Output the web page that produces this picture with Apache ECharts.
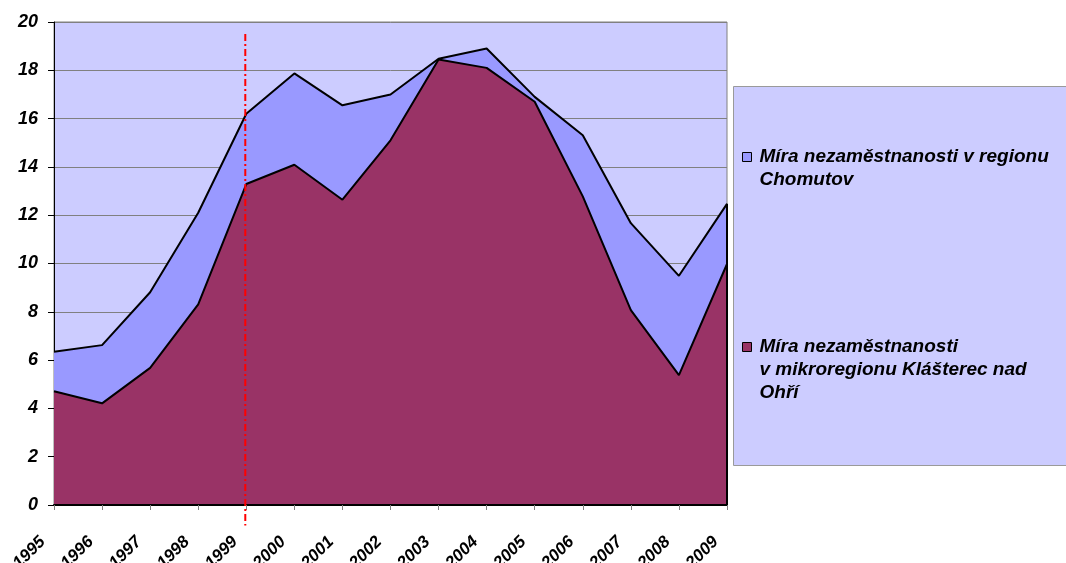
<!DOCTYPE html>
<html>
<head>
<meta charset="utf-8">
<script src="https://cdn.jsdelivr.net/npm/echarts@6/dist/echarts.min.js"></script>
<style>
html,body{margin:0;padding:0;background:#fff;}
#chart{width:1066px;height:563px;}
</style>
</head>
<body>
<div id="chart"></div>
<script>
// ---- data ----
const years = ['1995','1996','1997','1998','1999','2000','2001','2002','2003','2004','2005','2006','2007','2008','2009'];
const chomutov = [6.35, 6.62, 8.81, 12.1, 16.2, 17.87, 16.55, 17.0, 18.48, 18.9, 16.9, 15.31, 11.67, 9.49, 12.47];
const klasterec = [4.71, 4.21, 5.68, 8.31, 13.29, 14.09, 12.64, 15.1, 18.45, 18.1, 16.7, 12.78, 8.07, 5.38, 9.98];
const seriesNames = ['Míra nezaměstnanosti v regionu Chomutov', 'Míra nezaměstnanosti v mikroregionu Klášterec nad Ohří'];
const legendLines = [
  ['Míra nezaměstnanosti v regionu', 'Chomutov'],
  ['Míra nezaměstnanosti', 'v mikroregionu Klášterec nad', 'Ohří']
];
const yMin = 0, yMax = 20, yInterval = 2;
const markYear = '1999';
const markRange = [19.5, -0.85];

const FONT = '"Liberation Sans", Arial, sans-serif';
const chart = echarts.init(document.getElementById('chart'), null, {renderer: 'canvas'});

function legendText(i) {
  const lines = legendLines[i];
  // pad with empty lines above so the icon lines up with the first line
  const pad = new Array(lines.length - 1).fill('').join('\n');
  return (lines.length > 1 ? pad + '\n' : '') + lines.join('\n');
}
const LH = 23;
function legendCfg(i, iconCenterY) {
  const n = legendLines[i].length * 2 - 1;
  return {
    data: [seriesNames[i]],
    orient: 'vertical',
    left: 742,
    top: iconCenterY - n * LH / 2,
    padding: 0,
    icon: 'rect',
    itemWidth: 9,
    itemHeight: 9,
    itemStyle: {borderColor: '#000', borderWidth: 1},
    formatter: function () { return legendText(i); },
    textStyle: {fontFamily: FONT, fontSize: 19, fontWeight: 'bold', fontStyle: 'italic', color: '#000', lineHeight: LH, padding: [0, 0, 0, 3]}
  };
}

const legendBox = {
  id: 'legendBox', type: 'rect', z: 0,
  shape: {x: 733.5, y: 86.5, width: 340, height: 379},
  style: {fill: '#ccccff', stroke: '#9a9a9a', lineWidth: 1}
};

const option = {
  animation: false,
  backgroundColor: '#ffffff',
  grid: {
    left: 54, right: 339, top: 22, bottom: 58,
    containLabel: false, outerBoundsMode: 'none',
    show: true, backgroundColor: '#ccccff', borderColor: '#808080', borderWidth: 1
  },
  legend: [legendCfg(0, 157), legendCfg(1, 347)],
  graphic: [legendBox],
  xAxis: {
    type: 'category',
    data: years,
    boundaryGap: false,
    axisLine: {show: true, lineStyle: {color: '#000', width: 2}},
    axisTick: {show: true, length: 5, interval: 0, lineStyle: {color: '#808080'}},
    axisLabel: {
      interval: 0, rotate: 45, margin: 23,
      fontFamily: FONT, fontSize: 17, fontWeight: 'bold', fontStyle: 'italic', color: '#000',
      padding: [0, 16, 0, 0]
    },
    splitLine: {show: false},
    z: 5
  },
  yAxis: {
    type: 'value',
    min: yMin, max: yMax, interval: yInterval,
    axisLine: {show: true, lineStyle: {color: '#000', width: 1}},
    axisTick: {show: true, length: 6, lineStyle: {color: '#000'}},
    axisLabel: {margin: 16, fontFamily: FONT, fontSize: 18, fontWeight: 'bold', fontStyle: 'italic', color: '#000'},
    splitLine: {show: true, lineStyle: {color: '#808080', width: 1}}
  },
  series: [
    {
      name: seriesNames[0], type: 'line', data: chomutov,
      symbol: 'none', smooth: false,
      itemStyle: {color: '#9999ff'},
      lineStyle: {color: '#000', width: 2},
      areaStyle: {color: '#9999ff', opacity: 1}
    },
    {
      name: seriesNames[1], type: 'line', data: klasterec,
      symbol: 'none', smooth: false,
      itemStyle: {color: '#993366'},
      lineStyle: {color: '#000', width: 2},
      areaStyle: {color: '#993366', opacity: 1}
    }
  ]
};
chart.setOption(option);

// red dash-dot marker line at the year 1999 and right edge of the areas, positioned through the axis scales
const pTop = chart.convertToPixel({gridIndex: 0}, [markYear, markRange[0]]);
const pBot = chart.convertToPixel({gridIndex: 0}, [markYear, markRange[1]]);
const lastYear = years[years.length - 1];
const pEdgeTop = chart.convertToPixel({gridIndex: 0}, [lastYear, chomutov[chomutov.length - 1]]);
const pEdgeBot = chart.convertToPixel({gridIndex: 0}, [lastYear, 0]);
chart.setOption({
  graphic: [legendBox, {
    id: 'markLine1999', type: 'line', z: 10,
    shape: {x1: pTop[0] - 1, y1: pTop[1], x2: pBot[0] - 1, y2: pBot[1]},
    style: {stroke: '#ff0000', lineWidth: 2, lineDash: [7, 3, 2, 3]}
  }, {
    id: 'rightEdge', type: 'line', z: 9,
    shape: {x1: pEdgeTop[0], y1: pEdgeTop[1], x2: pEdgeBot[0], y2: pEdgeBot[1]},
    style: {stroke: '#000', lineWidth: 2}
  }]
});
</script>
</body>
</html>
